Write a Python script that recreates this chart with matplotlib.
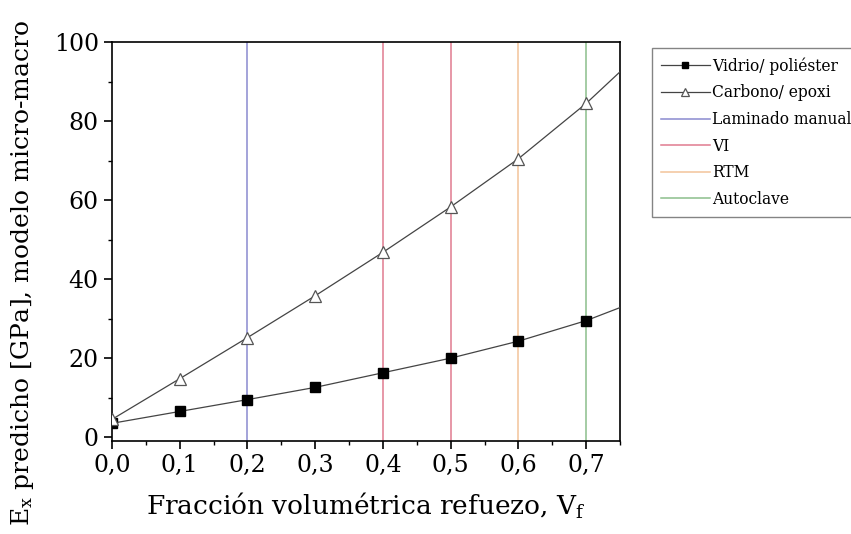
import matplotlib.pyplot as plt
from matplotlib.ticker import MultipleLocator, FuncFormatter

# datos
vf = [0.0, 0.1, 0.2, 0.3, 0.4, 0.5, 0.6, 0.7, 0.75]
ex_vidrio = [3.5, 6.5, 9.5, 12.6, 16.3, 20.0, 24.3, 29.5, 32.8]
ex_carbono = [4.5, 14.8, 25.2, 35.8, 46.8, 58.3, 70.5, 84.5, 92.5]

procesos = ["Laminado manual", "VI", "VI", "RTM", "Autoclave"]
vf_procesos = [0.2, 0.4, 0.5, 0.6, 0.7]
colores_procesos = ["#8a8ad0", "#e07a90", "#e07a90", "#f2c49a", "#8cbf8c"]

plt.rcParams["font.family"] = ["DejaVu Serif"]
plt.rcParams["mathtext.default"] = "regular"

fig = plt.figure(figsize=(8.51, 5.34), dpi=100)
ax = fig.add_axes([0.1316, 0.174, 0.597, 0.747])

n = len(vf) - 1
ax.plot(vf, ex_vidrio, color="#444444", lw=0.9, marker="s", ms=6.5,
        mfc="black", mec="black", markevery=list(range(n)),
        label="Vidrio/ poliéster", zorder=3)
ax.plot(vf, ex_carbono, color="#444444", lw=0.9, marker="^", ms=9,
        mfc="white", mec="#555555", mew=0.9, markevery=list(range(n)),
        label="Carbono/ epoxi", zorder=3)

vistos = set()
for nombre, x, c in zip(procesos, vf_procesos, colores_procesos):
    lab = nombre if nombre not in vistos else None
    vistos.add(nombre)
    ax.axvline(x, color=c, lw=1.1, label=lab, zorder=2)

ax.set_xlim(0, 0.75)
ax.set_ylim(-1, 100)
ax.xaxis.set_major_locator(MultipleLocator(0.1))
ax.xaxis.set_minor_locator(MultipleLocator(0.05))
ax.yaxis.set_major_locator(MultipleLocator(20))
ax.yaxis.set_minor_locator(MultipleLocator(10))
ax.xaxis.set_major_formatter(FuncFormatter(lambda v, p: f"{v:.1f}".replace(".", ",")))
ax.tick_params(which="major", length=6, width=1.2, labelsize=17, direction="out")
ax.tick_params(which="minor", length=3, width=1.0, direction="out")
for s in ax.spines.values():
    s.set_linewidth(1.2)

ax.set_xlabel("Fracción volumétrica refuezo, V$_f$", fontsize=19, labelpad=10)
ax.set_ylabel("E$_x$ predicho [GPa], modelo micro-macro", fontsize=18)
ax.yaxis.set_label_coords(-0.15, 0.42)

fig.legend(loc="upper left", bbox_to_anchor=(0.757, 0.925), fontsize=11.2,
           frameon=True, fancybox=False, edgecolor="#666666", markerscale=0.65,
           handlelength=3.1, borderpad=0.6, labelspacing=0.62, handletextpad=0.15)

fig.savefig("out.png", dpi=100)
